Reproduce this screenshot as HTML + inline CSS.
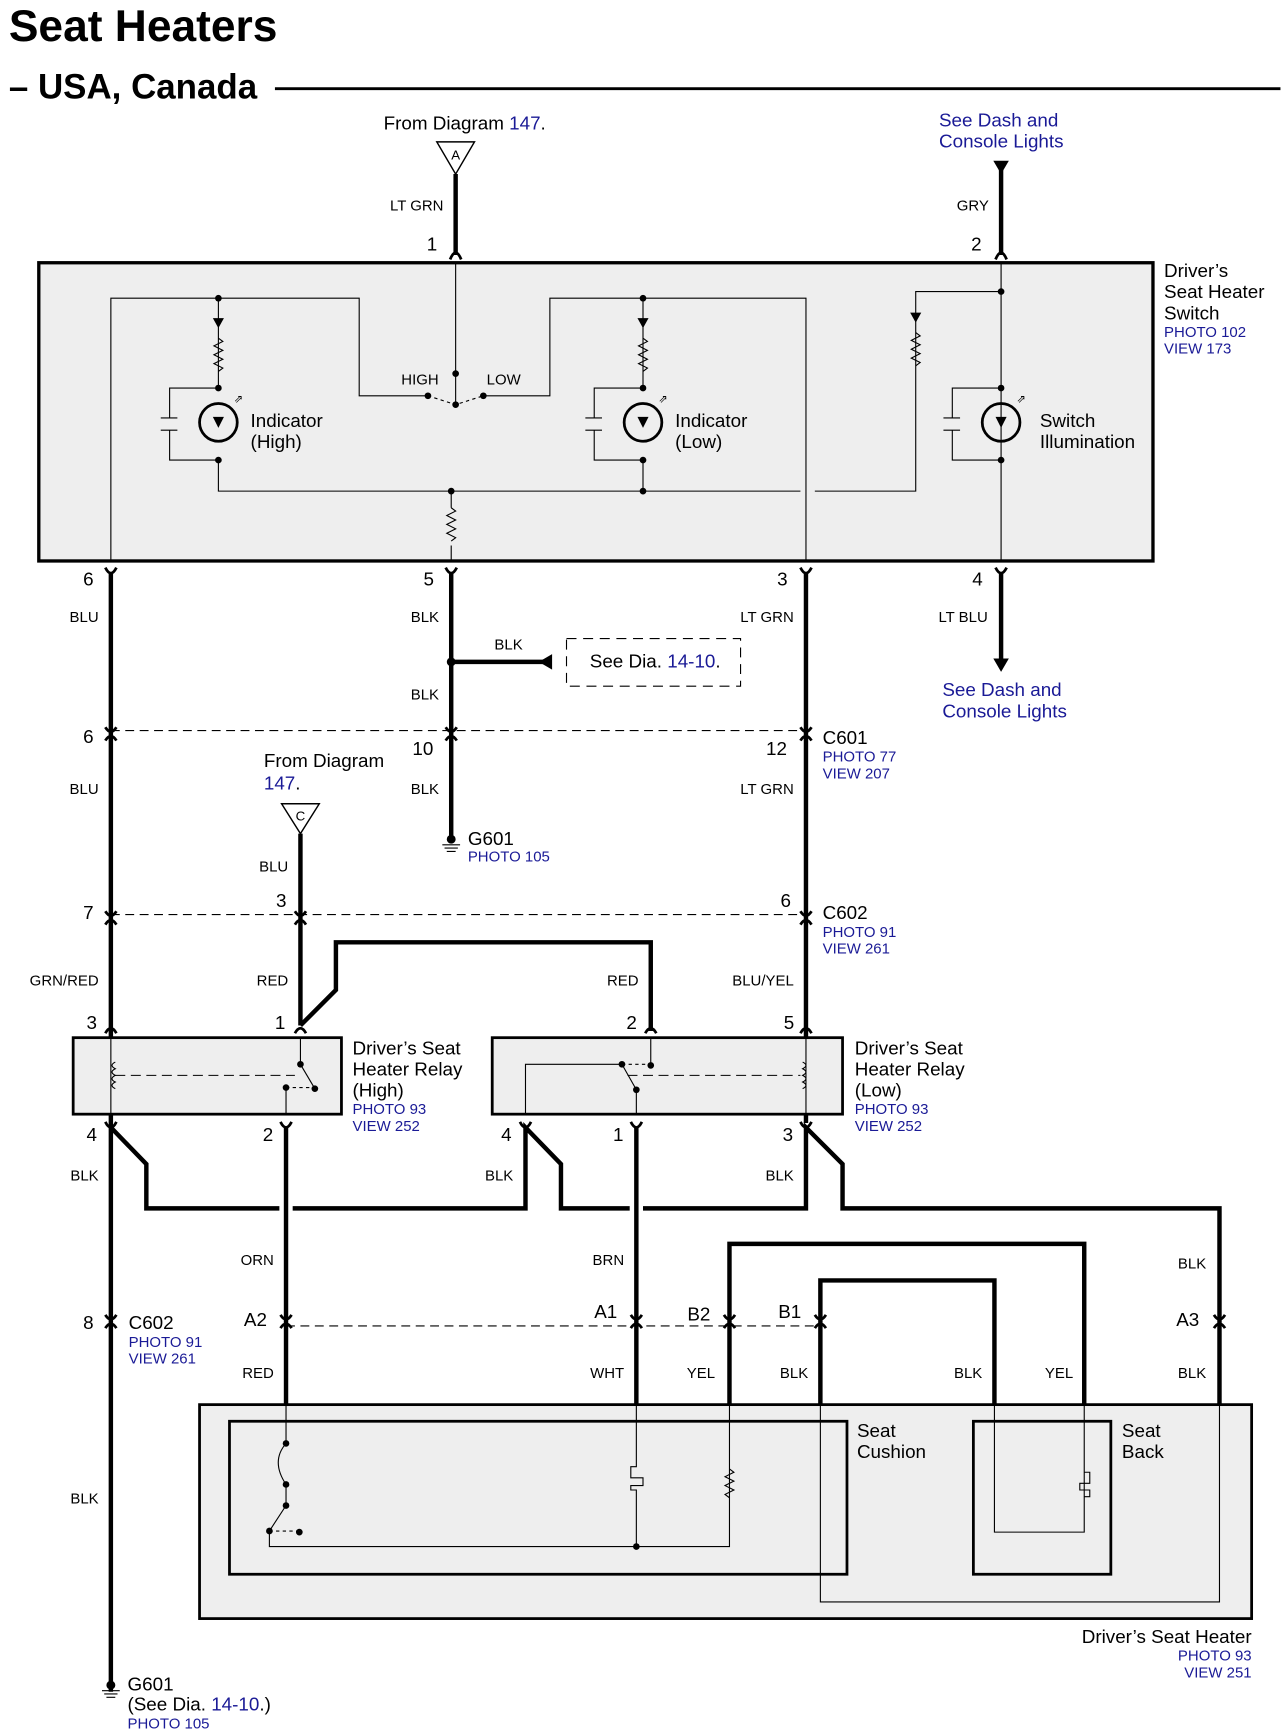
<!DOCTYPE html>
<html><head><meta charset="utf-8"><style>
html,body{margin:0;padding:0;background:#fff;}
svg{display:block;}
text{font-family:"Liberation Sans",Arial,sans-serif;fill:#000;}
.b{fill:#1a1a96;}
.s{font-size:13.5px;}
.m{font-size:17px;}
.w{fill:none;stroke:#000;stroke-width:4;}
.t{fill:none;stroke:#000;stroke-width:1;}
.d{fill:none;stroke:#000;stroke-width:1;stroke-dasharray:8,5;}
.c{fill:none;stroke:#000;stroke-width:2.5;}
</style></head><body>
<svg width="1286" height="1735" viewBox="0 0 1160 1565" preserveAspectRatio="none" xmlns="http://www.w3.org/2000/svg">
<!-- titles -->
<text x="8" y="37" style="font-size:40px;font-weight:bold">Seat Heaters</text>
<text x="8" y="89" style="font-size:31.5px;font-weight:bold">– USA, Canada</text>
<line x1="248" y1="80" x2="1155" y2="80" stroke="#000" stroke-width="2.5"/>

<!-- top -->
<text x="346" y="117" class="m">From Diagram <tspan class="b">147</tspan>.</text>
<polygon points="394,128 428,128 411,157" fill="#fff" stroke="#000" stroke-width="1.3"/>
<text x="411" y="144" class="s" text-anchor="middle" style="font-size:12px">A</text>
<line x1="411" y1="157" x2="411" y2="230" class="w"/>
<path d="M406,234 Q411,222 416,234" class="c"/>
<text x="400" y="190" class="s" text-anchor="end">LT GRN</text>
<text x="385" y="226" class="m">1</text>
<text x="847" y="114" class="m b">See Dash and</text>
<text x="847" y="133" class="m b">Console Lights</text>
<polygon points="896,145 910,145 903,157" fill="#000"/>
<line x1="903" y1="150" x2="903" y2="230" class="w"/>
<path d="M898,234 Q903,222 908,234" class="c"/>
<text x="892" y="190" class="s" text-anchor="end">GRY</text>
<text x="876" y="226" class="m">2</text>

<!-- switch box -->
<rect x="35" y="237" width="1005" height="269" fill="#eee" stroke="#000" stroke-width="3"/>
<text x="1050" y="250" class="m">Driver’s</text>
<text x="1050" y="269" class="m">Seat Heater</text>
<text x="1050" y="288" class="m">Switch</text>
<text x="1050" y="304" class="s b">PHOTO 102</text>
<text x="1050" y="319" class="s b">VIEW 173</text>
<g class="t">
<path d="M411,238 V365"/>
<path d="M100,506 V269 H324 V357 H386"/>
<path d="M436,357 H496 V269 H727 V506"/>
<path d="M197,269 V350 M197,415 V443 H722 M735,443 H826 V263 H903"/>
<path d="M580,269 V350 M580,415 V443"/>
<path d="M903,238 V506"/>
<path d="M407,443 V458 M407,492 V506"/>
<path d="M197,350 H153 V377 M197,415 H153 V388 M145,377 H160 M145,388 H160"/>
<path d="M580,350 H536 V377 M580,415 H536 V388 M528,377 H543 M528,388 H543"/>
<path d="M903,350 H859 V377 M903,415 H859 V388 M851,377 H866 M851,388 H866"/>
<path d="M197,305 l4,3 -8,4 8,4 -8,4 8,4 -8,4 8,4 -4,3"/>
<path d="M580,305 l4,3 -8,4 8,4 -8,4 8,4 -8,4 8,4 -4,3"/>
<path d="M826,300 l4,3 -8,4 8,4 -8,4 8,4 -8,4 8,4 -4,3"/>
<path d="M407,458 l4,3 -8,4 8,4 -8,4 8,4 -8,4 8,4 -4,3"/>
<path d="M386,357 L411,365 L436,357" stroke-dasharray="3,3"/>
</g>
<g fill="#000">
<circle cx="197" cy="269" r="3"/><circle cx="197" cy="350" r="3"/><circle cx="197" cy="415" r="3"/>
<circle cx="580" cy="269" r="3"/><circle cx="580" cy="350" r="3"/><circle cx="580" cy="415" r="3"/><circle cx="580" cy="443" r="3"/>
<circle cx="903" cy="263" r="3"/><circle cx="903" cy="350" r="3"/><circle cx="903" cy="415" r="3"/>
<circle cx="407" cy="443" r="3"/><circle cx="411" cy="337" r="3"/><circle cx="411" cy="365" r="3"/>
<circle cx="386" cy="357" r="3"/><circle cx="436" cy="357" r="3"/>
<polygon points="192,287 202,287 197,296"/><polygon points="575,287 585,287 580,296"/><polygon points="821,282 831,282 826,291"/>
<polygon points="192,376 202,376 197,386"/><polygon points="575,376 585,376 580,386"/><polygon points="898,376 908,376 903,386"/>
</g>
<circle cx="197" cy="381" r="17" fill="none" stroke="#000" stroke-width="2.5"/>
<circle cx="580" cy="381" r="17" fill="none" stroke="#000" stroke-width="2.5"/>
<circle cx="903" cy="381" r="17" fill="none" stroke="#000" stroke-width="2.5"/>
<text x="211" y="363" style="font-size:10px">⇗</text><text x="594" y="363" style="font-size:10px">⇗</text><text x="917" y="363" style="font-size:10px">⇗</text>
<text x="226" y="385" class="m">Indicator</text><text x="226" y="404" class="m">(High)</text>
<text x="609" y="385" class="m">Indicator</text><text x="609" y="404" class="m">(Low)</text>
<text x="938" y="385" class="m">Switch</text><text x="938" y="404" class="m">Illumination</text>
<text x="362" y="347" class="s">HIGH</text><text x="439" y="347" class="s">LOW</text>

<!-- bottom pins of switch -->
<g class="c">
<path d="M95,512 Q100,522 105,512"/><path d="M402,512 Q407,522 412,512"/><path d="M722,512 Q727,522 732,512"/><path d="M898,512 Q903,522 908,512"/>
</g>
<text x="75" y="528" class="m">6</text><text x="382" y="528" class="m">5</text><text x="701" y="528" class="m">3</text><text x="877" y="528" class="m">4</text>
<line x1="100" y1="517" x2="100" y2="1526" class="w"/>
<line x1="407" y1="517" x2="407" y2="755" class="w"/>
<line x1="727" y1="517" x2="727" y2="1013" class="w"/>
<line x1="903" y1="517" x2="903" y2="596" class="w"/>
<polygon points="896,594 910,594 903,606" fill="#000"/>
<text x="89" y="561" class="s" text-anchor="end">BLU</text>
<text x="396" y="561" class="s" text-anchor="end">BLK</text>
<text x="716" y="561" class="s" text-anchor="end">LT GRN</text>
<text x="891" y="561" class="s" text-anchor="end">LT BLU</text>
<text x="850" y="628" class="m b">See Dash and</text>
<text x="850" y="647" class="m b">Console Lights</text>

<!-- BLK junction -->
<circle cx="407" cy="597" r="4" fill="#000"/>
<line x1="407" y1="597" x2="492" y2="597" class="w"/>
<polygon points="486,597 498,590 498,604" fill="#000"/>
<text x="446" y="586" class="s">BLK</text>
<rect x="511" y="576" width="157" height="43" fill="none" stroke="#000" stroke-width="1" stroke-dasharray="9,6"/>
<text x="532" y="602" class="m">See Dia. <tspan class="b">14-10</tspan>.</text>
<text x="396" y="631" class="s" text-anchor="end">BLK</text>

<!-- C601 -->
<line x1="100" y1="659" x2="727" y2="659" class="d"/>
<g class="c">
<path d="M95,656 Q100,664 105,656"/><path d="M95,668 Q100,660 105,668"/>
<path d="M402,656 Q407,664 412,656"/><path d="M402,668 Q407,660 412,668"/>
<path d="M722,656 Q727,664 732,656"/><path d="M722,668 Q727,660 732,668"/>
</g>
<text x="75" y="670" class="m">6</text><text x="372" y="681" class="m">10</text><text x="691" y="681" class="m">12</text>
<text x="742" y="671" class="m">C601</text>
<text x="742" y="687" class="s b">PHOTO 77</text><text x="742" y="702" class="s b">VIEW 207</text>
<text x="89" y="716" class="s" text-anchor="end">BLU</text>
<text x="396" y="716" class="s" text-anchor="end">BLK</text>
<text x="716" y="716" class="s" text-anchor="end">LT GRN</text>
<!-- G601 -->
<circle cx="407" cy="757" r="4" fill="#000"/>
<path d="M399,762 H415 M401,765 H413 M403,768 H411" stroke="#000" stroke-width="1"/>
<text x="422" y="762" class="m">G601</text>
<text x="422" y="777" class="s b">PHOTO 105</text>

<!-- From Diagram C -->
<text x="238" y="692" class="m">From Diagram</text>
<text x="238" y="712" class="m b">147<tspan fill="#000">.</tspan></text>
<polygon points="254,725 288,725 271,752" fill="#fff" stroke="#000" stroke-width="1.3"/>
<text x="271" y="740" text-anchor="middle" style="font-size:12px">C</text>
<line x1="271" y1="752" x2="271" y2="925" class="w"/>
<text x="260" y="786" class="s" text-anchor="end">BLU</text>

<!-- C602 -->
<line x1="100" y1="825" x2="727" y2="825" class="d"/>
<g class="c">
<path d="M95,822 Q100,830 105,822"/><path d="M95,834 Q100,826 105,834"/>
<path d="M266,822 Q271,830 276,822"/><path d="M266,834 Q271,826 276,834"/>
<path d="M722,822 Q727,830 732,822"/><path d="M722,834 Q727,826 732,834"/>
</g>
<text x="75" y="829" class="m">7</text><text x="249" y="818" class="m">3</text><text x="704" y="818" class="m">6</text>
<text x="742" y="829" class="m">C602</text>
<text x="742" y="845" class="s b">PHOTO 91</text><text x="742" y="860" class="s b">VIEW 261</text>
<text x="89" y="889" class="s" text-anchor="end">GRN/RED</text>
<text x="260" y="889" class="s" text-anchor="end">RED</text>
<text x="576" y="889" class="s" text-anchor="end">RED</text>
<text x="716" y="889" class="s" text-anchor="end">BLU/YEL</text>
<path d="M271,925 L303,893 V850 H587 V930" class="w"/>

<!-- relay pins top -->
<g class="c">
<path d="M95,932 Q100,923 105,932"/><path d="M266,932 Q271,923 276,932"/><path d="M582,932 Q587,923 592,932"/><path d="M722,932 Q727,923 732,932"/>
</g>
<text x="78" y="928" class="m">3</text><text x="248" y="928" class="m">1</text><text x="565" y="928" class="m">2</text><text x="707" y="928" class="m">5</text>

<!-- relay high -->
<rect x="66" y="936" width="242" height="69" fill="#eee" stroke="#000" stroke-width="2.5"/>
<g class="t">
<path d="M100,937 V1004 M271,937 V960 M258,1004 V981"/>
<path d="M104,958 q-6,3 0,6 q-6,3 0,6 q-6,3 0,6 q-6,3 0,6"/>
<path d="M104,970 H266" stroke-dasharray="9,5"/>
<path d="M271,960 L284,982"/>
<path d="M258,981 H284" stroke-dasharray="3,3"/>
</g>
<circle cx="271" cy="960" r="3"/><circle cx="284" cy="982" r="3"/><circle cx="258" cy="981" r="3"/>
<text x="318" y="951" class="m">Driver’s Seat</text>
<text x="318" y="970" class="m">Heater Relay</text>
<text x="318" y="989" class="m">(High)</text>
<text x="318" y="1005" class="s b">PHOTO 93</text><text x="318" y="1020" class="s b">VIEW 252</text>

<!-- relay low -->
<rect x="444" y="936" width="316" height="69" fill="#eee" stroke="#000" stroke-width="2.5"/>
<g class="t">
<path d="M587,937 V961 M727,937 V1004 M574,1004 V983"/>
<path d="M474,1004 V960 H561"/>
<path d="M574,983 L561,960"/>
<path d="M561,960 H587" stroke-dasharray="3,3"/>
<path d="M724,958 q6,3 0,6 q6,3 0,6 q6,3 0,6 q6,3 0,6"/>
<path d="M566,970 H722" stroke-dasharray="9,5"/>
</g>
<circle cx="561" cy="960" r="3"/><circle cx="587" cy="961" r="3"/><circle cx="574" cy="983" r="3"/>
<text x="771" y="951" class="m">Driver’s Seat</text>
<text x="771" y="970" class="m">Heater Relay</text>
<text x="771" y="989" class="m">(Low)</text>
<text x="771" y="1005" class="s b">PHOTO 93</text><text x="771" y="1020" class="s b">VIEW 252</text>

<!-- relay pins bottom -->
<g class="c">
<path d="M95,1012 Q100,1022 105,1012"/><path d="M253,1012 Q258,1022 263,1012"/><path d="M469,1012 Q474,1022 479,1012"/><path d="M569,1012 Q574,1022 579,1012"/><path d="M722,1012 Q727,1022 732,1012"/>
</g>
<text x="78" y="1029" class="m">4</text><text x="237" y="1029" class="m">2</text><text x="452" y="1029" class="m">4</text><text x="553" y="1029" class="m">1</text><text x="706" y="1029" class="m">3</text>

<!-- ground chain -->
<path d="M100,1017 L132,1050 V1090 H252 M264,1090 H474 V1017 L506,1050 V1090 H568 M580,1090 H727 V1017 L760,1050 V1090 H1100 V1267" class="w"/>
<text x="89" y="1065" class="s" text-anchor="end">BLK</text>
<text x="463" y="1065" class="s" text-anchor="end">BLK</text>
<text x="716" y="1065" class="s" text-anchor="end">BLK</text>

<line x1="258" y1="1017" x2="258" y2="1267" class="w"/>
<line x1="574" y1="1017" x2="574" y2="1267" class="w"/>
<path d="M658,1267 V1122 H978 V1267" class="w"/>
<path d="M740,1267 V1155 H897 V1267" class="w"/>
<text x="247" y="1141" class="s" text-anchor="end">ORN</text>
<text x="563" y="1141" class="s" text-anchor="end">BRN</text>
<text x="1088" y="1144" class="s" text-anchor="end">BLK</text>

<!-- C602 lower -->
<line x1="258" y1="1196" x2="740" y2="1196" class="d"/>
<g class="c">
<path d="M95,1186 Q100,1194 105,1186"/><path d="M95,1198 Q100,1190 105,1198"/>
<path d="M253,1186 Q258,1194 263,1186"/><path d="M253,1198 Q258,1190 263,1198"/>
<path d="M569,1186 Q574,1194 579,1186"/><path d="M569,1198 Q574,1190 579,1198"/>
<path d="M653,1186 Q658,1194 663,1186"/><path d="M653,1198 Q658,1190 663,1198"/>
<path d="M735,1186 Q740,1194 745,1186"/><path d="M735,1198 Q740,1190 745,1198"/>
<path d="M1095,1186 Q1100,1194 1105,1186"/><path d="M1095,1198 Q1100,1190 1105,1198"/>
</g>
<text x="75" y="1199" class="m">8</text>
<text x="116" y="1199" class="m">C602</text>
<text x="116" y="1215" class="s b">PHOTO 91</text><text x="116" y="1230" class="s b">VIEW 261</text>
<text x="220" y="1196" class="m">A2</text><text x="536" y="1189" class="m">A1</text><text x="620" y="1191" class="m">B2</text><text x="702" y="1189" class="m">B1</text><text x="1061" y="1196" class="m">A3</text>
<text x="247" y="1243" class="s" text-anchor="end">RED</text>
<text x="563" y="1243" class="s" text-anchor="end">WHT</text>
<text x="645" y="1243" class="s" text-anchor="end">YEL</text>
<text x="729" y="1243" class="s" text-anchor="end">BLK</text>
<text x="886" y="1243" class="s" text-anchor="end">BLK</text>
<text x="968" y="1243" class="s" text-anchor="end">YEL</text>
<text x="1088" y="1243" class="s" text-anchor="end">BLK</text>
<text x="89" y="1356" class="s" text-anchor="end">BLK</text>

<!-- seat heater -->
<rect x="180" y="1267" width="949" height="193" fill="#eee" stroke="#000" stroke-width="2.5"/>
<rect x="207" y="1282" width="557" height="138" fill="none" stroke="#000" stroke-width="2.5"/>
<rect x="878" y="1282" width="124" height="138" fill="none" stroke="#000" stroke-width="2.5"/>
<g class="t">
<path d="M740,1267 V1445 H1100 V1267"/>
<path d="M258,1268 V1302 M258,1302 Q244,1318 258,1339 M258,1339 V1358 L243,1381 V1395 H658 V1268"/>
<path d="M243,1381 H270" stroke-dasharray="3,3"/>
<path d="M574,1268 V1323 H569 V1333 H580 V1340 H569 V1344 H574 V1395"/>
<path d="M658,1325 l4,3 -8,4 8,4 -8,4 8,4 -8,4 4,3"/>
<path d="M897,1268 V1382 H978 V1268"/>
<path d="M978,1328 H983 V1338 H974 V1344 H983 V1350 H978"/>
</g>
<g fill="#000">
<circle cx="258" cy="1302" r="3"/><circle cx="258" cy="1339" r="3"/><circle cx="258" cy="1358" r="3"/><circle cx="243" cy="1381" r="3"/><circle cx="270" cy="1382" r="3"/><circle cx="574" cy="1395" r="3"/>
</g>
<text x="773" y="1296" class="m">Seat</text><text x="773" y="1315" class="m">Cushion</text>
<text x="1012" y="1296" class="m">Seat</text><text x="1012" y="1315" class="m">Back</text>
<text x="1129" y="1482" class="m" text-anchor="end">Driver’s Seat Heater</text>
<text x="1129" y="1498" class="s b" text-anchor="end">PHOTO 93</text>
<text x="1129" y="1513" class="s b" text-anchor="end">VIEW 251</text>

<!-- bottom ground -->
<circle cx="100" cy="1520" r="4" fill="#000"/>
<path d="M92,1525 H108 M94,1528 H106 M96,1531 H104" stroke="#000" stroke-width="1"/>
<text x="115" y="1525" class="m">G601</text>
<text x="115" y="1543" class="m">(See Dia. <tspan class="b">14-10</tspan>.)</text>
<text x="115" y="1559" class="s b">PHOTO 105</text>
</svg>
</body></html>
